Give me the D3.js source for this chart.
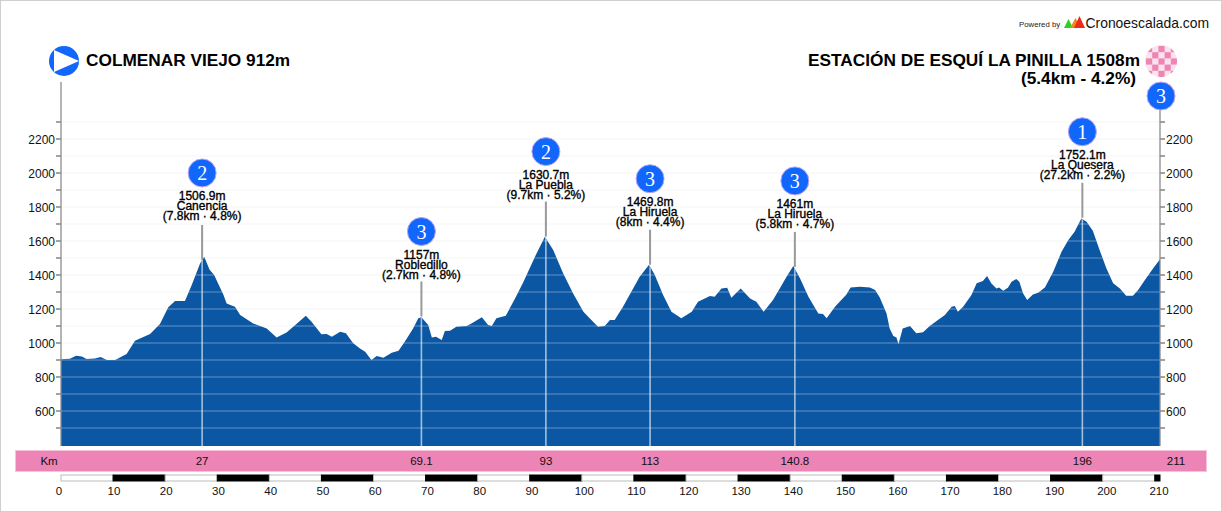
<!DOCTYPE html>
<html><head><meta charset="utf-8">
<script src="https://cdn.jsdelivr.net/npm/d3@7/dist/d3.min.js"></script>
<style>html,body{margin:0;padding:0;background:#fff}svg{display:block}text{font-family:"Liberation Sans",Arial,sans-serif}</style>
</head><body><svg id="c" width="1222" height="512"></svg>
<script>
const profileKm=[0,1.7,2.9,4,4.9,6.5,7.6,8.8,10.4,12.6,14.2,17.1,19,20.6,21.9,23.8,25.1,26.7,27.5,28.5,29.4,31.2,31.8,33.4,34.4,36.9,39.5,41.4,43.3,45.2,47,48.1,50,51,52,53.6,54.7,56.1,57.4,58.4,59.6,60.6,61.9,63.5,64.8,66,67.6,68.6,69.2,70.5,71.2,72,73.1,73.7,74.7,75.9,77.9,78.8,80.8,82,82.7,83.6,85.4,87.2,88.8,91,92.9,94.5,96.4,98.3,100.3,101.5,103.1,104.4,105.4,106.3,107.9,109.5,111.1,112.9,114,115.6,117.2,119.1,121.1,122.3,124.6,125.5,126.8,127.9,128.7,130.5,132.3,133.5,134.9,136.7,138,139.3,140.6,141.9,143.5,145.4,146.3,147,148.6,150.8,151.6,153.4,155.3,156.3,157.2,158.5,159.1,159.8,160.4,160.8,161.6,163,164.2,165.5,166.8,168.1,169.7,171,171.6,172.2,173.2,174.8,175.8,177,177.8,178.6,179.6,180.1,180.9,181.8,182.5,183.4,184,184.7,185.5,186.6,187.6,188.9,190.5,192.1,193.4,194.6,195.9,196.9,198.1,199.4,200.7,202,203.3,204.5,205.8,206.8,208.1,209.7,211];
const profileEle=[904,908,925,921,906,909,917,900,900,935,1013,1053,1112,1210,1247,1247,1341,1468,1507,1433,1400,1282,1233,1213,1164,1115,1086,1033,1062,1112,1161,1125,1051,1053,1037,1066,1057,998,968,949,900,923,913,943,955,1008,1086,1145,1151,1106,1033,1037,1017,1070,1072,1096,1100,1115,1151,1106,1100,1145,1161,1263,1360,1508,1625,1547,1410,1292,1184,1145,1096,1100,1135,1135,1213,1302,1390,1460,1400,1282,1184,1145,1184,1243,1276,1272,1321,1325,1266,1321,1262,1243,1184,1253,1321,1390,1453,1380,1272,1174,1170,1145,1213,1286,1327,1331,1327,1312,1268,1174,1086,1041,1033,994,1086,1100,1057,1063,1100,1129,1164,1213,1217,1184,1213,1282,1351,1364,1394,1351,1321,1327,1308,1325,1361,1376,1361,1292,1253,1286,1296,1327,1419,1537,1606,1655,1733,1713,1660,1547,1439,1351,1321,1278,1278,1312,1370,1439,1492];

const peakKm=[27,69.1,93,113,140.8,196];
const peakEle=["1506.9m","1157m","1630.7m","1469.8m","1461m","1752.1m"];
const peakName=["Canencia","Robledillo","La Puebla","La Hiruela","La Hiruela","La Quesera"];
const peakClimb=["(7.8km · 4.8%)","(2.7km · 4.8%)","(9.7km · 5.2%)","(8km · 4.4%)","(5.8km · 4.7%)","(27.2km · 2.2%)"];
const peakCat=["2","3","2","3","3","1"];

const bandLabels=["27","69.1","93","113","140.8","196","211"];
const bandKm=[27,69.1,93,113,140.8,196,211];
const scaleTicks=[0,10,20,30,40,50,60,70,80,90,100,110,120,130,140,150,160,170,180,190,200,210];
const yMajor=[600,800,1000,1200,1400,1600,1800,2000,2200];
const yMinor=[500,700,900,1100,1300,1500,1700,1900,2100,2300];

const startTitle="COLMENAR VIEJO 912m";
const finishTitle="ESTACIÓN DE ESQUÍ LA PINILLA 1508m";
const finishClimb="(5.4km - 4.2%)";
const finishCat="3";

const svg=d3.select("#c");
const x=d3.scaleLinear().domain([0,211]).range([61,1160]);
const y=d3.scaleLinear().domain([600,2200]).range([411,139]);
const base=446, BLUE="#0b57a3", MARK="#1166fb", GREY="#8c8c8c";
const profile=profileKm.map((k,i)=>({k,e:profileEle[i]}));
const eleAt=d3.scaleLinear().domain(profileKm).range(profileEle);
const labelLift=[3,1,1,2,2,2];

svg.append("rect").attr("x",.5).attr("y",.5).attr("width",1221).attr("height",511).attr("fill","#fff").attr("stroke","#cfcfcf");

const hundreds=yMajor.concat(yMinor);
svg.append("g").selectAll("line").data(hundreds).join("line")
 .attr("x1",x(0)).attr("x2",x(211)).attr("y1",d=>y(d)).attr("y2",d=>y(d))
 .attr("stroke","#f9f9f9").attr("stroke-width",1.6);

const area=d3.area().x(d=>x(d.k)).y0(base).y1(d=>y(d.e));
svg.append("path").datum(profile).attr("d",area).attr("fill",BLUE).attr("stroke","none");
svg.append("clipPath").attr("id","ac").append("path").datum(profile).attr("d",area);
const over=svg.append("g").attr("clip-path","url(#ac)");
over.selectAll("line.g").data(hundreds).join("line").attr("class","g")
 .attr("x1",x(0)).attr("x2",x(211)).attr("y1",d=>y(d)).attr("y2",d=>y(d))
 .attr("stroke","#fff").attr("stroke-opacity",.24).attr("stroke-width",1.6);
over.selectAll("line.p").data(peakKm).join("line").attr("class","p")
 .attr("x1",d=>x(d)+.5).attr("x2",d=>x(d)+.5).attr("y1",0).attr("y2",base)
 .attr("stroke","#fff").attr("stroke-opacity",.62).attr("stroke-width",1.6);

function axisSide(px,dir,top){
  const g=svg.append("g");
  g.append("line").attr("x1",px).attr("x2",px).attr("y1",top).attr("y2",base).attr("stroke",GREY).attr("stroke-width",1.3);
  g.selectAll("line.t").data(hundreds).join("line").attr("class","t")
   .attr("x1",px).attr("x2",px+dir*5).attr("y1",d=>y(d)).attr("y2",d=>y(d)).attr("stroke",GREY).attr("stroke-width",1.6);
  g.selectAll("text").data(yMajor).join("text").attr("x",px+dir*6).attr("y",d=>y(d)+4.5)
   .attr("text-anchor",dir<0?"end":"start").attr("font-size",12).attr("fill","#111").text(d=>d);
}
axisSide(61,-1,82); axisSide(1160,1,110);

const marker=(g,cx,cy,label)=>{
  g.append("circle").attr("cx",cx).attr("cy",cy).attr("r",14).attr("fill",MARK).attr("stroke","#b9a6f5").attr("stroke-width",1);
  g.append("text").attr("x",cx).attr("y",cy+7).attr("text-anchor","middle").attr("font-size",20)
   .attr("style",'font-family:"Liberation Serif",serif').attr("fill","#fff").text(label);
};
peakKm.forEach((k,i)=>{
  const g=svg.append("g"), px=x(k)+.5, py=y(eleAt(k)), lift=labelLift[i];
  g.append("line").attr("x1",px).attr("x2",px).attr("y1",py-36).attr("y2",py-1).attr("stroke","#999").attr("stroke-width",2);
  [peakEle[i],peakName[i],peakClimb[i]].forEach((t,j)=>{
    g.append("text").attr("x",px).attr("y",py-58-lift+j*10).attr("text-anchor","middle").attr("font-size",12)
     .attr("fill","#000").attr("stroke","#000").attr("stroke-width",.35).text(t);
  });
  marker(g,px,py-85-lift,peakCat[i]);
});

svg.append("circle").attr("cx",64).attr("cy",61).attr("r",15).attr("fill",MARK);
svg.append("path").attr("d",d3.line()([[54,50],[79,61],[54,72]])+"Z").attr("fill","#fff");
svg.append("text").attr("x",86).attr("y",66).attr("font-size",17.25).attr("font-weight","bold").attr("fill","#000").text(startTitle);

svg.append("text").attr("x",1140).attr("y",66).attr("text-anchor","end").attr("font-size",17.25).attr("font-weight","bold").attr("fill","#000").text(finishTitle);
svg.append("text").attr("x",1078.5).attr("y",84).attr("text-anchor","middle").attr("font-size",17.25).attr("font-weight","bold").attr("fill","#000").text(finishClimb);
const fc=svg.append("g");
svg.append("clipPath").attr("id","fc").append("circle").attr("cx",1161).attr("cy",61).attr("r",16);
fc.attr("clip-path","url(#fc)");
fc.append("rect").attr("x",1145).attr("y",45).attr("width",32).attr("height",32).attr("fill","#fbe3ee");
d3.range(0,5).forEach(r=>d3.range(0,5).forEach(c=>{
  if((r+c)%2===0) fc.append("rect").attr("x",1146+c*6.2).attr("y",46+r*6.2).attr("width",6.2).attr("height",6.2).attr("fill","#ee85b5");
}));
marker(svg.append("g"),1161,96,finishCat);

svg.append("text").attr("x",1019).attr("y",27).attr("font-size",7.8).attr("fill","#222").text("Powered by");
const tri=(a,b,h,c)=>svg.append("path").attr("d",`M${a},28L${(a+b)/2},${28-h}L${b},28Z`).attr("fill",c);
tri(1064,1073,9,"#2fd01f"); tri(1070,1081,10,"#ee8a22"); tri(1074,1085,12,"#ee2a1c");
svg.append("text").attr("x",1085.5).attr("y",28).attr("font-size",13.9).attr("fill","#111").text("Cronoescalada.com");

svg.append("rect").attr("x",15.5).attr("y",450.5).attr("width",1191).attr("height",21).attr("fill","#ec84b5").attr("stroke","#f7c3dc");
svg.append("text").attr("x",49).attr("y",465).attr("text-anchor","middle").attr("font-size",11.5).attr("fill","#111").text("Km");
svg.append("g").selectAll("text").data(bandKm).join("text")
 .attr("x",d=>d===211?x(d)+16:x(d)+.5).attr("y",465).attr("text-anchor","middle").attr("font-size",11.5).attr("fill","#111")
 .text((d,i)=>bandLabels[i]);

const segs=scaleTicks.map(d=>[d,Math.min(d+10,211)]);
svg.append("g").selectAll("rect").data(segs).join("rect")
 .attr("x",d=>x(d[0])).attr("y",475).attr("width",d=>x(d[1])-x(d[0])).attr("height",6)
 .attr("fill",d=>(d[0]/10)%2?"#000":"#fff").attr("stroke",d=>(d[0]/10)%2?"#000":"#bbb").attr("stroke-width",1);
const lx=d3.scaleLinear().domain([10,210]).range([114,1159]);
svg.append("g").selectAll("text").data(scaleTicks).join("text")
 .attr("x",d=>d===0?59:lx(d)).attr("y",495).attr("text-anchor","middle").attr("font-size",11.5).attr("fill","#111").text(d=>d);
</script></body></html>
